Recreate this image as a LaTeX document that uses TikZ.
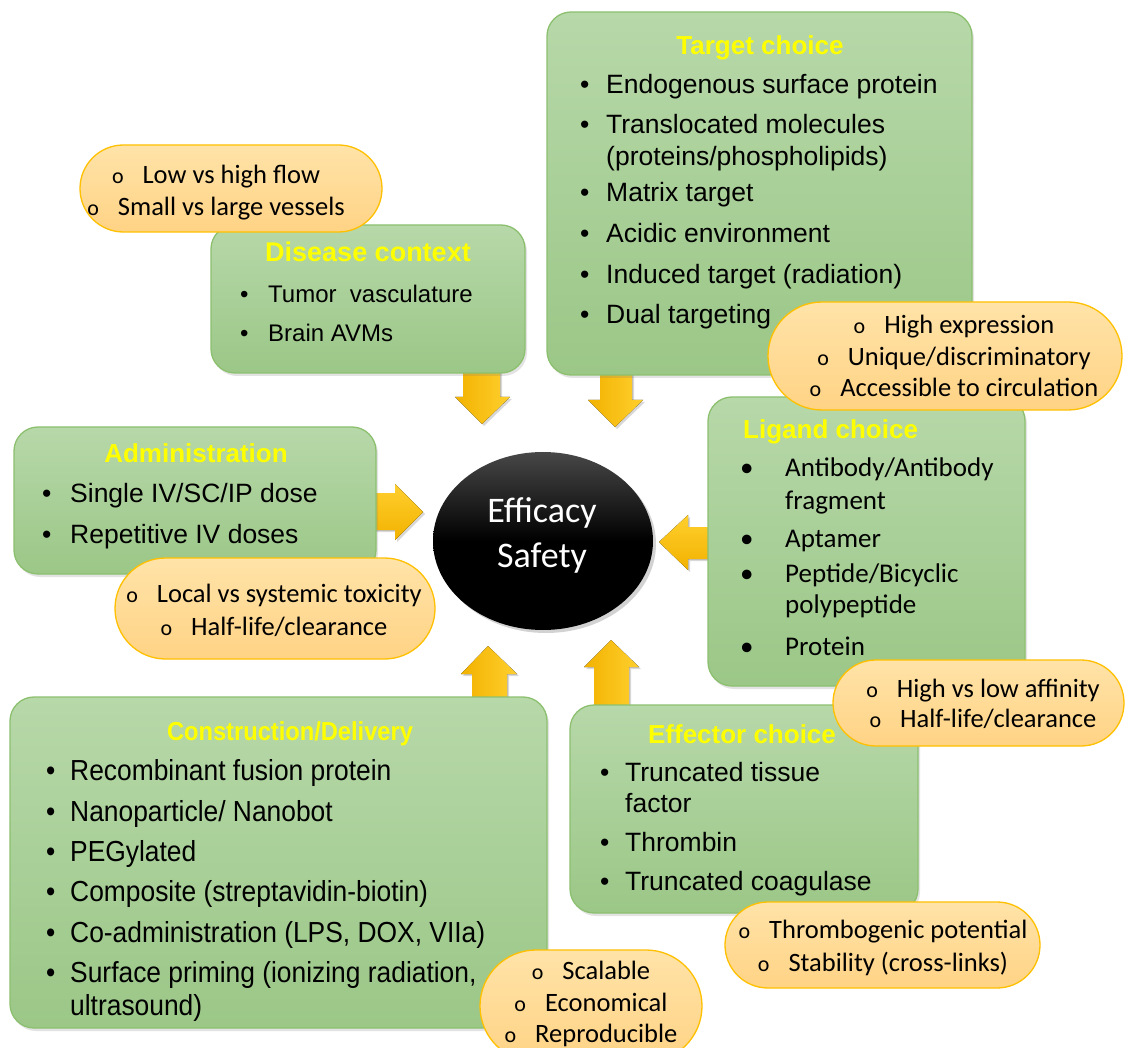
\documentclass[tikz,border=0pt]{standalone}
\usepackage{fontspec}
\setmainfont{Liberation Sans}
\newfontfamily\carl{Carlito}
\newfontfamily\narrowf[FakeStretch=0.91]{Liberation Sans}
\usetikzlibrary{shapes.misc,shapes.geometric,shadows}
\definecolor{gtop}{HTML}{B7D8A9}
\definecolor{gbot}{HTML}{9BC787}
\definecolor{gline}{HTML}{8CC06F}
\definecolor{otop}{HTML}{FFE3A8}
\definecolor{obot}{HTML}{FFD385}
\definecolor{oline}{HTML}{FFC000}
\definecolor{aleft}{HTML}{F2B200}
\definecolor{aright}{HTML}{FFCF2E}
\definecolor{ttlc}{HTML}{FFFF00}
\newcommand\fA{\fontsize{26.5}{32}\selectfont}
\newcommand\fD{\fontsize{24}{29}\selectfont}
\newcommand\fL{\carl\fontsize{27}{32}\selectfont}
\newcommand\fC{\narrowf\fontsize{29}{33}\selectfont}
\newcommand\fP{\carl\fontsize{26.5}{32}\selectfont}
\newcommand\itm[6]{\node[itm,font=#2] (#1b) at (#3,#5) {\textbullet}; \node[itm,font=#2] (#1) at (#4,#5) {#6};}
\newcommand\itc[4]{\node[itm,font=#2] (#1) at (#3) {#4};}
\newcommand\pln[3]{\node[pl] (#1) at (#2) {{\fontsize{22}{22}\selectfont o}\hspace{19pt}#3};}
\begin{document}
\begin{tikzpicture}[x=1pt,y=-1pt,
  gbox/.style={rectangle, rounded corners=24pt, draw=gline, line width=1.3pt, top color=gtop, bottom color=gbot, inner sep=0pt,
    drop shadow={shadow xshift=2pt,shadow yshift=-3pt,opacity=0.22}},
  pill/.style={rounded rectangle, draw=oline, line width=1.3pt, top color=otop, bottom color=obot, inner sep=0pt},
  varrow/.style={left color=aleft, right color=aright, draw=none,
    drop shadow={shadow xshift=2pt,shadow yshift=-2pt,opacity=0.3}},
  harrow/.style={top color=aright, bottom color=aleft, draw=none,
    drop shadow={shadow xshift=2pt,shadow yshift=-2pt,opacity=0.3}},
  ttl/.style={font=\bfseries\fontsize{26}{30}\selectfont, text=ttlc, inner sep=0pt, anchor=base},
  itm/.style={anchor=base west, inner sep=0pt},
  pl/.style={anchor=base, inner sep=0pt, font=\fP}]
\useasboundingbox (0,0) rectangle (1125,1048);
\fill[white] (0,0) rectangle (1125,1048);

% arrows
\fill[varrow] (463,371) -- (500,371) -- (500,397) -- (510,397) -- (482,424) -- (455,397) -- (463,397) -- cycle;
\fill[varrow] (600,373) -- (632,373) -- (632,400) -- (643,400) -- (615,427) -- (588,400) -- (600,400) -- cycle;
\fill[harrow] (710,527) -- (710,559) -- (688,559) -- (688,570) -- (659,542) -- (688,515) -- (688,527) -- cycle;
\fill[harrow] (374,493) -- (374,530) -- (395,530) -- (395,540) -- (423,512) -- (395,484) -- (395,493) -- cycle;
\fill[varrow] (472,699) -- (507,699) -- (507,674) -- (517,674) -- (488,646) -- (461,674) -- (472,674) -- cycle;
\fill[varrow] (594,707) -- (629,707) -- (629,667) -- (639,667) -- (611,640) -- (584,667) -- (594,667) -- cycle;

% green boxes
\node[gbox, minimum width=314pt, minimum height=148pt] (dis) at (368,299) {};
\node[gbox, minimum width=425pt, minimum height=363pt] (tgt) at (759.5,193.5) {};
\node[gbox, minimum width=317pt, minimum height=289pt] (lig) at (866.5,541.5) {};
\node[gbox, minimum width=362pt, minimum height=147pt] (adm) at (195,500.5) {};
\node[gbox, minimum width=537pt, minimum height=331pt] (con) at (278.5,862.5) {};
\node[gbox, minimum width=348pt, minimum height=208pt] (eff) at (744,809) {};

% centre
\node[ellipse, minimum width=220pt, minimum height=178pt, top color=black!72, bottom color=black, middle color=black, draw=none,
  drop shadow={shadow xshift=3pt,shadow yshift=-3pt,opacity=0.35}] (ctr) at (543,541) {};
\node[anchor=base, inner sep=0pt, text=white, font=\carl\fontsize{36}{40}\selectfont] (ctr1) at (542,522) {Efficacy};
\node[anchor=base, inner sep=0pt, text=white, font=\carl\fontsize{36}{40}\selectfont] (ctr2) at (542,567) {Safety};

% titles
\node[ttl, font=\bfseries\fontsize{27}{31}\selectfont] (disT) at (368,262) {Disease context};
\node[ttl] (tgtT) at (760,55) {Target choice};
\node[ttl, anchor=base west] (ligT) at (743,439) {Ligand choice};
\node[ttl] (admT) at (196,463) {Administration};
\node[ttl, font=\narrowf\bfseries\fontsize{26}{30}\selectfont] (conT) at (290,740) {Construction/Delivery};
\node[ttl] (effT) at (742,743) {Effector choice};

% disease items
\itm{d1}{\fD}{240}{268}{303}{Tumor~ vasculature}
\itm{d2}{\fD}{240}{268}{342}{Brain AVMs}
% target items
\itm{t1}{\fA}{580}{606}{94}{Endogenous surface protein}
\itm{t2}{\fA}{580}{606}{134}{Translocated molecules}
\itc{t2c}{\fA}{606,166}{(proteins/phospholipids)}
\itm{t3}{\fA}{580}{606}{202}{Matrix target}
\itm{t4}{\fA}{580}{606}{243}{Acidic environment}
\itm{t5}{\fA}{580}{606}{284}{Induced target (radiation)}
\itm{t6}{\fA}{580}{606}{324}{Dual targeting}
% ligand items
\itm{l1}{\fL}{740}{785}{477}{Antibody/Antibody}
\itc{l1c}{\fL}{785,509}{fragment}
\itm{l2}{\fL}{740}{785}{547}{Aptamer}
\itm{l3}{\fL}{740}{785}{582}{Peptide/Bicyclic}
\itc{l3c}{\fL}{785,613}{polypeptide}
\itm{l4}{\fL}{740}{785}{655}{Protein}
% administration items
\itm{a1}{\fA}{42}{70}{503}{Single IV/SC/IP dose}
\itm{a2}{\fA}{42}{70}{543}{Repetitive IV doses}
% construction items
\itm{c1}{\fC}{46}{70}{780}{Recombinant fusion protein}
\itm{c2}{\fC}{46}{70}{821}{Nanoparticle/ Nanobot}
\itm{c3}{\fC}{46}{70}{861}{PEGylated}
\itm{c4}{\fC}{46}{70}{901}{Composite (streptavidin-biotin)}
\itm{c5}{\fC}{46}{70}{942}{Co-administration (LPS, DOX, VIIa)}
\itm{c6}{\fC}{46}{70}{982}{Surface priming (ionizing radiation,}
\itc{c6c}{\fC}{70,1015}{ultrasound)}
% effector items
\itm{e1}{\fA}{600}{625}{781}{Truncated tissue}
\itc{e1c}{\fA}{625,812}{factor}
\itm{e2}{\fA}{600}{625}{851}{Thrombin}
\itm{e3}{\fA}{600}{625}{890}{Truncated coagulase}

% pills
\node[pill, minimum width=302pt, minimum height=87pt] (p1) at (231,188.5) {};
\node[pill, minimum width=354pt, minimum height=108pt] (pt) at (945,356) {};
\node[pill, minimum width=291pt, minimum height=86pt] (pl) at (978.5,703) {};
\node[pill, minimum width=320pt, minimum height=101pt] (pa) at (275,608.5) {};
\node[pill, minimum width=222pt, minimum height=112pt] (pb) at (591,1006) {};
\node[pill, minimum width=315pt, minimum height=86pt] (pe) at (882.5,945) {};

\pln{p1a}{216,184}{Low vs high flow}
\pln{p1b}{216,216}{Small vs large vessels}
\pln{pta}{954,334}{High expression}
\pln{ptb}{954,366}{Unique/discriminatory}
\pln{ptc}{954,397}{Accessible to circulation}
\pln{pla}{983,697}{High vs low affinity}
\pln{plb}{983,727}{Half-life/clearance}
\pln{paa}{274,602}{Local vs systemic toxicity}
\pln{pab}{274,635}{Half-life/clearance}
\pln{pba}{591,979}{Scalable}
\pln{pbb}{591,1011}{Economical}
\pln{pbc}{591,1042}{Reproducible}
\pln{pea}{883,938}{Thrombogenic potential}
\pln{peb}{883,971}{Stability (cross-links)}
\end{tikzpicture}
\end{document}
